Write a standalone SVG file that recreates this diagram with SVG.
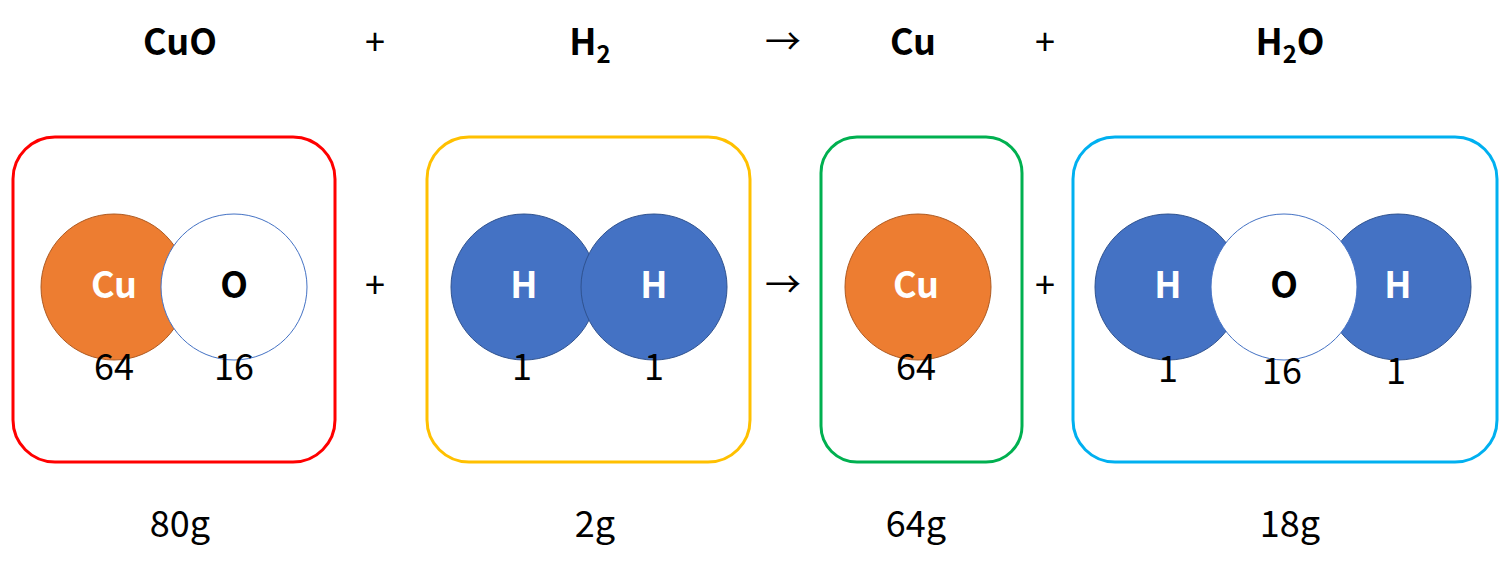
<svg xmlns="http://www.w3.org/2000/svg" width="1512" height="572" viewBox="0 0 1512 572">
<style>
text{font-family:"Noto Sans CJK JP","Noto Sans",sans-serif;text-anchor:middle;font-size:36px;fill:#000}
.f{font-weight:bold}
.w{fill:#fff;font-weight:bold}
.box{fill:none;stroke-width:3}
.cu{fill:#ED7D31;stroke:#AE5A21;stroke-width:1}
.h{fill:#4472C4;stroke:#2F528F;stroke-width:1}
.o{fill:#fff;stroke:#4472C4;stroke-width:1}
</style>
<rect width="1512" height="572" fill="#fff"/>
<g id="formula">
<text class="f" x="180" y="55">CuO</text>
<text x="375" y="55">+</text>
<text class="f" x="590" y="55">H<tspan font-size="24" dy="8">2</tspan></text>
<text x="783" y="55">→</text>
<text class="f" x="913" y="55">Cu</text>
<text x="1045" y="55">+</text>
<text class="f" x="1290" y="55">H<tspan font-size="24" dy="8">2</tspan><tspan dy="-8">O</tspan></text>
</g>
<g id="connectors">
<text x="375" y="298">+</text>
<text x="783" y="298">→</text>
<text x="1045" y="298">+</text>
</g>
<g id="cuo">
<rect class="box" x="13" y="137" width="322" height="325" rx="42" stroke="#FF0000"/>
<circle class="cu" cx="114" cy="287" r="73"/>
<circle class="o" cx="234" cy="287" r="73"/>
<text class="w" x="114" y="298">Cu</text>
<text class="f" x="234" y="298">O</text>
<text x="114" y="380">64</text>
<text x="234" y="380">16</text>
</g>
<g id="h2">
<rect class="box" x="427" y="137" width="323" height="325" rx="42" stroke="#FFC000"/>
<circle class="h" cx="524" cy="287" r="73"/>
<circle class="h" cx="654" cy="287" r="73"/>
<text class="w" x="524" y="298">H</text>
<text class="w" x="654" y="298">H</text>
<text x="522" y="380">1</text>
<text x="654" y="380">1</text>
</g>
<g id="cu">
<rect class="box" x="821" y="137" width="201" height="325" rx="36" stroke="#00B050"/>
<circle class="cu" cx="918" cy="287" r="73"/>
<text class="w" x="916" y="298">Cu</text>
<text x="916" y="380">64</text>
</g>
<g id="h2o">
<rect class="box" x="1073" y="137" width="424" height="325" rx="42" stroke="#00B0F0"/>
<circle class="h" cx="1168" cy="287" r="73"/>
<circle class="h" cx="1398" cy="287" r="73"/>
<circle class="o" cx="1284" cy="287" r="73"/>
<text class="w" x="1168" y="298">H</text>
<text class="f" x="1284" y="298">O</text>
<text class="w" x="1398" y="298">H</text>
<text x="1168" y="382">1</text>
<text x="1282" y="384">16</text>
<text x="1396" y="384">1</text>
</g>
<g id="masses">
<text x="180" y="537">80g</text>
<text x="595" y="537">2g</text>
<text x="916" y="537">64g</text>
<text x="1290" y="537">18g</text>
</g>
</svg>
